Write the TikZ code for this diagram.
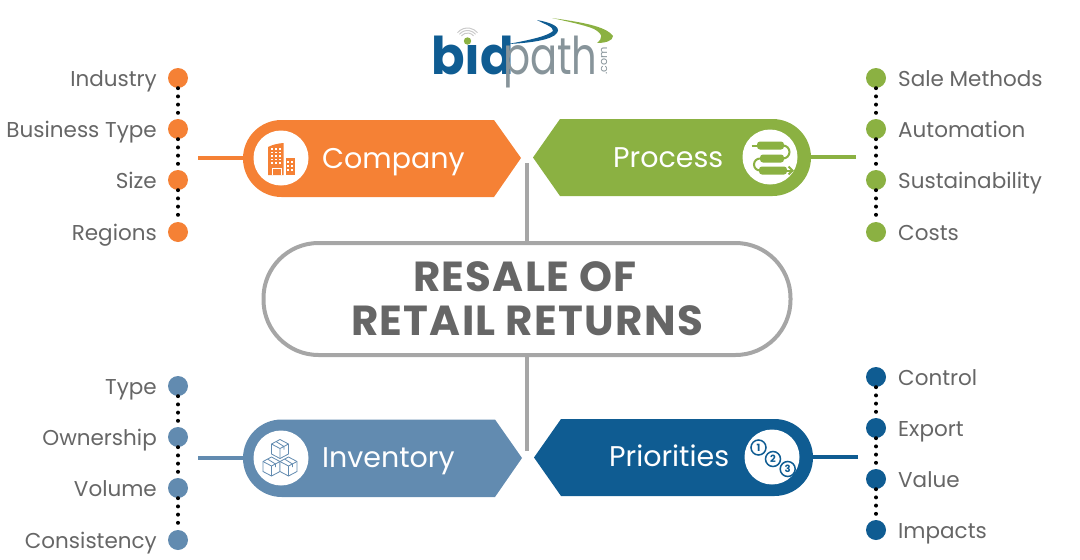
\documentclass[tikz,border=0pt]{standalone}
\usepackage{fontspec}
\setmainfont{Poppins}
\definecolor{orangetag}{HTML}{F58135}
\definecolor{greentag}{HTML}{8BB142}
\definecolor{steeltag}{HTML}{628BB0}
\definecolor{bluetag}{HTML}{0F5C92}
\definecolor{greytext}{HTML}{666666}
\definecolor{greyline}{HTML}{A6A6A6}
\definecolor{pathgrey}{HTML}{87949A}

\begin{document}
\begin{tikzpicture}[x=1pt,y=-1pt]
        % Define styles
        \tikzset{
            item/.style={anchor=east, inner sep=0pt, text height=16pt, text depth=0pt, text=greytext, font=\fontsize{21.5}{24}\selectfont},
            itemright/.style={anchor=west, inner sep=0pt, text height=16pt, text depth=0pt, text=greytext, font=\fontsize{21.5}{24}\selectfont},
            bullet/.style={circle, minimum size=20pt, inner sep=0pt},
            dotline/.style={black, line width=4pt, line cap=round, dash pattern=on 0pt off 8.2pt},
            tagtext/.style={anchor=west, text=white, inner sep=0pt, text height=21pt, text depth=0pt, font=\fontsize{28.5}{32}\selectfont},
            badge/.style={circle, fill=white, minimum size=55pt, inner sep=0pt},
            stem/.style={line width=4pt},
            mainbox/.style={rectangle, draw=greyline, line width=4pt, rounded corners=55pt, minimum width=527pt, minimum height=112pt, align=center, text=greytext, font=\fontsize{42}{44}\selectfont\bfseries\addfontfeature{LetterSpace=3}},
            numcircle/.style={circle, draw=bluetag, fill=white, line width=1.5pt, minimum size=15pt, inner sep=0pt, text=bluetag, font=\fontsize{10}{10}\selectfont\bfseries},
            cube/.pic={
                \draw[steeltag, line width=0.8pt, line join=round, fill=white] (0,-9) -- (-8.5,-4.5) -- (-8.5,5.5) -- (0,10) -- (8.5,5.5) -- (8.5,-4.5) -- cycle;
                \draw[steeltag, line width=0.8pt, line join=round] (-8.5,-4.5) -- (0,0) -- (8.5,-4.5) (0,0) -- (0,10) (-4,-7) -- (4,-2) -- (4,1);
            }
        }
        \useasboundingbox (0,0) rectangle (1080,560);

        % Logo
        \node[inner sep=0pt, anchor=base west, xscale=0.95, transform shape, text=bluetag, font=\fontsize{52}{56}\selectfont\bfseries] (logo_bid) at (431,74) {b\i d};
        \node[inner sep=0pt, anchor=base west, xscale=0.77, transform shape, text=pathgrey, font=\fontsize{52}{56}\selectfont] (logo_path) at (503,74) {path};
        \node[inner sep=0pt, rotate=90, text=pathgrey, font=\fontsize{11}{12}\selectfont] (logo_com) at (604,61) {.com};
        \fill[bluetag] (508,44) .. controls (530,40) and (548,36) .. (553,31) .. controls (554,27) and (544,24) .. (537,20) .. controls (548,22) and (562,26) .. (557,33) .. controls (552,40) and (530,43) .. (508,44) -- cycle;
        \fill[greentag] (552,18) .. controls (580,22) and (606,26) .. (613,36) .. controls (613,41) and (605,43) .. (597,43) .. controls (603,38) and (603,34) .. (594,29) .. controls (585,25) and (565,21) .. (552,18) -- cycle;
        \fill[greentag] (467.5,41) circle (3.7);
        \draw[greyline!60, line width=1pt] (467.5,41) ++(-140:8) arc (-140:-40:8);
        \draw[greyline!60, line width=1pt] (467.5,41) ++(-140:10.5) arc (-140:-40:10.5);
        \draw[greyline!60, line width=1pt] (467.5,41) ++(-140:13) arc (-140:-40:13);

        % Tags
        \fill[orangetag] (281.5,120) -- (494,120) -- (521,158) -- (494,197) -- (281.5,197) arc (90:270:38.5) -- cycle;
        \fill[greentag] (772.5,119) -- (560,119) -- (533,157.5) -- (560,196) -- (772.5,196) arc (90:-90:38.5) -- cycle;
        \fill[steeltag] (281.75,419.5) -- (495,419.5) -- (522,458) -- (495,497) -- (281.75,497) arc (90:270:38.75) -- cycle;
        \fill[bluetag] (774.5,419) -- (561,419) -- (534,457.5) -- (561,496) -- (774.5,496) arc (90:-90:38.5) -- cycle;

        % Nodes
        \node[mainbox] (center_node) at (527,299) {RESALE OF\hspace*{4pt}\\RETAIL RETURNS};
        \node[tagtext] (company_text) at (322,158) {Company};
        \node[tagtext] (process_text) at (613,157) {Process};
        \node[tagtext] (inventory_text) at (322,457) {Inventory};
        \node[tagtext] (priorities_text) at (609,456) {Priorities};
        \node[badge] (company_badge) at (281,158) {};
        \node[badge] (process_badge) at (770,157) {};
        \node[badge] (inventory_badge) at (281,458) {};
        \node[badge] (priorities_badge) at (772,457) {};

        % Icons
        \fill[orangetag] (268,147) .. controls (273,144.5) and (278,143.5) .. (283.5,143) -- (283.5,175) -- (268,175) -- cycle;
        \fill[orangetag] (285.5,158) -- (295,158) -- (295,175) -- (285.5,175) -- cycle;
        \foreach \x in {272,276,280}
            \foreach \y in {149,152.5,156,159.5,163}
                \fill[white] (\x-0.9,\y-0.9) rectangle (\x+0.9,\y+0.9);
        \foreach \x in {288,292}
            \foreach \y in {162,166,170}
                \fill[white] (\x-0.9,\y-0.9) rectangle (\x+0.9,\y+0.9);
        \draw[white, line width=1pt] (272,175) -- (272,168.5) -- (281,168.5) -- (281,175);

        \draw[greentag, line width=2pt] (751.5,145.5) -- (760,145.5);
        \draw[greentag, line width=2pt] (783,145.5) arc (-90:90:6.5);
        \draw[greentag, line width=2pt] (760,158.5) arc (-90:-270:6);
        \fill[greentag, rounded corners=3pt] (757,141.5) rectangle (784,149.5);
        \fill[greentag, rounded corners=3pt] (760,154.5) rectangle (784,162.5);
        \fill[greentag, rounded corners=3pt] (759,166.5) rectangle (787,174.5);
        \draw[greentag, line width=2pt] (786,170.5) -- (792.5,170.5);
        \draw[greentag, line width=2pt] (788.5,166.5) -- (792.5,170.5) -- (788.5,174.5);

        \pic at (280,448.5) {cube};
        \pic at (271.5,466) {cube};
        \pic at (288.5,466) {cube};

        \node[numcircle] (priorities_num_1) at (758.5,447.5) {1};
        \node[numcircle] (priorities_num_2) at (773,459) {2};
        \node[numcircle] (priorities_num_3) at (787.7,469) {3};

        % Company list
        \node[bullet, fill=orangetag] (company_dot_1) at (178,78) {};
        \node[bullet, fill=orangetag] (company_dot_2) at (178,129) {};
        \node[bullet, fill=orangetag] (company_dot_3) at (178,180) {};
        \node[bullet, fill=orangetag] (company_dot_4) at (178,232) {};
        \node[item] (company_item_1) at (157,78) {Industry};
        \node[item] (company_item_2) at (157,129) {Business Type};
        \node[item] (company_item_3) at (157,180) {Size};
        \node[item] (company_item_4) at (157,232) {Regions};

        % Process list
        \node[bullet, fill=greentag] (process_dot_1) at (876,78) {};
        \node[bullet, fill=greentag] (process_dot_2) at (876,129) {};
        \node[bullet, fill=greentag] (process_dot_3) at (876,180) {};
        \node[bullet, fill=greentag] (process_dot_4) at (876,232) {};
        \node[itemright] (process_item_1) at (898,78) {Sale Methods};
        \node[itemright] (process_item_2) at (898,129) {Automation};
        \node[itemright] (process_item_3) at (898,180) {Sustainability};
        \node[itemright] (process_item_4) at (898,232) {Costs};

        % Inventory list
        \node[bullet, fill=steeltag] (inventory_dot_1) at (178,386) {};
        \node[bullet, fill=steeltag] (inventory_dot_2) at (178,437) {};
        \node[bullet, fill=steeltag] (inventory_dot_3) at (178,488) {};
        \node[bullet, fill=steeltag] (inventory_dot_4) at (178,540) {};
        \node[item] (inventory_item_1) at (157,386) {Type};
        \node[item] (inventory_item_2) at (157,437) {Ownership};
        \node[item] (inventory_item_3) at (157,488) {Volume};
        \node[item] (inventory_item_4) at (157,540) {Consistency};

        % Priorities list
        \node[bullet, fill=bluetag] (priorities_dot_1) at (876,377) {};
        \node[bullet, fill=bluetag] (priorities_dot_2) at (876,428) {};
        \node[bullet, fill=bluetag] (priorities_dot_3) at (876,479) {};
        \node[bullet, fill=bluetag] (priorities_dot_4) at (876,530) {};
        \node[itemright] (priorities_item_1) at (898,377) {Control};
        \node[itemright] (priorities_item_2) at (898,428) {Export};
        \node[itemright] (priorities_item_3) at (898,479) {Value};
        \node[itemright] (priorities_item_4) at (898,530) {Impacts};

        % Free ends
        \coordinate (top_end) at (527,163);
        \coordinate (bottom_end) at (527,451);
        \coordinate (company_end) at (198,158);
        \coordinate (process_end) at (856,157);
        \coordinate (inventory_end) at (198,458);
        \coordinate (priorities_end) at (858,457);

        % Connectors
        \draw[stem, greyline] (center_node) -- (top_end);
        \draw[stem, greyline] (center_node) -- (bottom_end);
        \draw[stem, orangetag] (company_end) -- (company_badge);
        \draw[stem, greentag] (process_end) -- (process_badge);
        \draw[stem, steeltag] (inventory_end) -- (inventory_badge);
        \draw[stem, bluetag] (priorities_end) -- (priorities_badge);
        \draw[dotline] (company_dot_1) -- (company_dot_2);
        \draw[dotline] (company_dot_2) -- (company_dot_3);
        \draw[dotline] (company_dot_3) -- (company_dot_4);
        \draw[dotline] (process_dot_1) -- (process_dot_2);
        \draw[dotline] (process_dot_2) -- (process_dot_3);
        \draw[dotline] (process_dot_3) -- (process_dot_4);
        \draw[dotline] (inventory_dot_1) -- (inventory_dot_2);
        \draw[dotline] (inventory_dot_2) -- (inventory_dot_3);
        \draw[dotline] (inventory_dot_3) -- (inventory_dot_4);
        \draw[dotline] (priorities_dot_1) -- (priorities_dot_2);
        \draw[dotline] (priorities_dot_2) -- (priorities_dot_3);
        \draw[dotline] (priorities_dot_3) -- (priorities_dot_4);
\end{tikzpicture}
\end{document}
